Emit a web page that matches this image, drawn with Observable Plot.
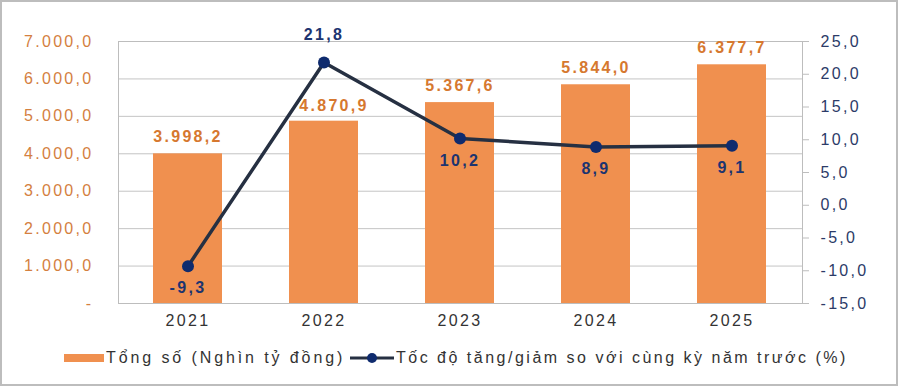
<!DOCTYPE html>
<html>
<head>
<meta charset="utf-8">
<script src="https://cdn.jsdelivr.net/npm/d3@7"></script>
<script src="https://cdn.jsdelivr.net/npm/@observablehq/plot@0.6"></script>
<style>
  body { margin: 0; background: #fff; }
  #wrap { position: relative; width: 900px; height: 389px; overflow: hidden; font-family: "Liberation Sans", Arial, sans-serif; }
  #frame { position: absolute; left: 0; top: 0; width: 894px; height: 382px; border: 2px solid #BDBDBD; pointer-events: none; box-sizing: content-box; }
  #chart { position: absolute; left: 0; top: 0; }
  #legend { position: absolute; left: 0; top: 346px; width: 900px; height: 24px; font-size: 16px; color: #333; }
  .item { position: absolute; top: 0; display: flex; align-items: center; height: 24px; white-space: nowrap; }
  #lg1 { letter-spacing: 2.9px; }
  #lg2 { letter-spacing: 2.5px; }
</style>
</head>
<body>
<div id="wrap">
  <div id="chart"></div>
  <div id="legend">
    <div class="item" style="left:64px">
      <svg width="42" height="24"><rect x="0" y="8" width="40" height="8" fill="#F0904F"></rect></svg>
      <span id="lg1"></span>
    </div>
    <div class="item" style="left:350px">
      <svg width="46" height="24"><line x1="0" x2="44" y1="12" y2="12" stroke="#263042" stroke-width="3"></line><circle cx="22" cy="12" r="5" fill="#0F2B6E"></circle></svg>
      <span id="lg2"></span>
    </div>
  </div>
  <div id="frame"></div>
</div>
<script>
const years = ["2021", "2022", "2023", "2024", "2025"];
const totals = [3998.2, 4870.9, 5367.6, 5844.0, 6377.7];
const growth = [-9.3, 21.8, 10.2, 8.9, 9.1];
const leftTicks = [0, 1000, 2000, 3000, 4000, 5000, 6000, 7000];
const rightTicks = [-15, -10, -5, 0, 5, 10, 15, 20, 25];
const seriesNames = ["Tổng số (Nghìn tỷ đồng)", "Tốc độ tăng/giảm so với cùng kỳ năm trước (%)"];

document.getElementById("lg1").textContent = seriesNames[0];
document.getElementById("lg2").textContent = seriesNames[1];

const fmt = d => d3.format(",.1f")(d).replace(/\u2212/g, "-").replace(/,/g, "X").replace(".", ",").replace(/X/g, ".");
const leftMin = 0, leftMax = 7000, rightMin = -15, rightMax = 25;
const toLeft = v => leftMin + (v - rightMin) / (rightMax - rightMin) * (leftMax - leftMin);

const data = years.map((y, i) => ({year: y, total: totals[i], growth: growth[i], g: toLeft(growth[i]), i}));

const font = "Liberation Sans, Arial, sans-serif";

const chart = Plot.plot({
  width: 900,
  height: 340,
  marginLeft: 118,
  marginRight: 98,
  marginTop: 41,
  marginBottom: 37,
  style: {fontFamily: font, fontSize: "16px", background: "transparent"},
  x: {domain: years, paddingInner: 0.49, paddingOuter: 0.245, label: null},
  y: {domain: [leftMin, leftMax], label: null},
  marks: [
    Plot.gridY(leftTicks, {stroke: "#C4C4C4", strokeOpacity: 1, strokeWidth: 1}),
    Plot.barY(data, {x: "year", y: "total", fill: "#F0904F"}),
    Plot.frame({stroke: "#BDBDBD", strokeWidth: 1}),
    Plot.axisY(leftTicks, {anchor: "left", tickSize: 0, tickPadding: 25, label: null,
      tickFormat: d => d === 0 ? "-" : fmt(d), fill: "#D4803F", fontSize: 16}),
    Plot.axisY(rightTicks.map(toLeft), {anchor: "right", tickSize: 6, tickPadding: 12, label: null,
      stroke: "#BDBDBD", tickFormat: d => fmt(Math.round(rightMin + d / (leftMax - leftMin) * (rightMax - rightMin))),
      fill: "#2C3B68", fontSize: 16}),
    Plot.axisX({tickSize: 0, tickPadding: 11, label: null, fill: "#333333", fontSize: 16}),
    Plot.line(data, {x: "year", y: "g", stroke: "#263042", strokeWidth: 3.5}),
    Plot.dot(data, {x: "year", y: "g", r: 6, fill: "#0F2B6E"}),
    Plot.text(data.filter(d => d.i !== 1), {x: "year", y: "total", text: d => fmt(d.total), dy: -17, fill: "#D6782F",
      fontWeight: "bold", fontSize: 16, lineAnchor: "middle"}),
    Plot.text(data.filter(d => d.i === 1), {x: "year", y: "total", text: d => fmt(d.total), dy: -15, dx: 10, fill: "#D6782F",
      fontWeight: "bold", fontSize: 16, lineAnchor: "middle"}),
    Plot.text(data.filter(d => d.i !== 1), {x: "year", y: "g", text: d => fmt(d.growth), dy: 22,
      fill: "#1C3470", fontWeight: "bold", fontSize: 16, lineAnchor: "middle"}),
    Plot.text(data.filter(d => d.i === 1), {x: "year", y: "g", text: d => fmt(d.growth), dy: -28,
      fill: "#1C3470", fontWeight: "bold", fontSize: 16, lineAnchor: "middle"})
  ]
});
chart.querySelectorAll("text").forEach(t => t.setAttribute("letter-spacing", "2.3"));
document.getElementById("chart").appendChild(chart);
</script>
</body>
</html>
